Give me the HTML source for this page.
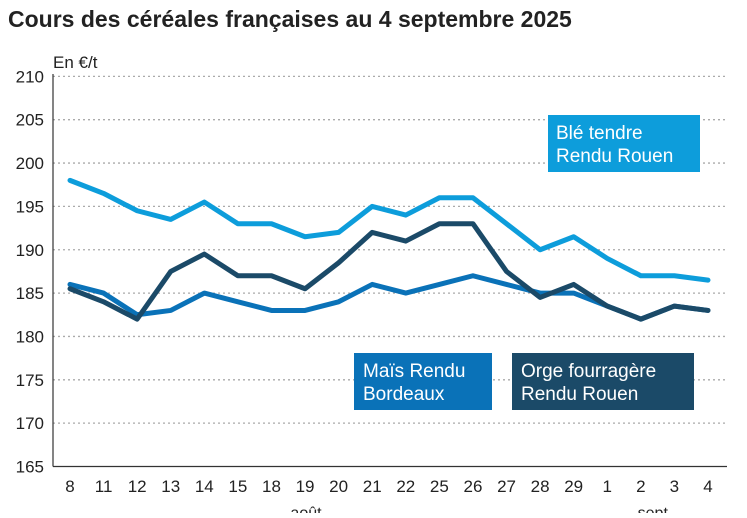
<!DOCTYPE html>
<html><head><meta charset="utf-8"><style>
body{margin:0;background:#fff;font-family:"Liberation Sans",sans-serif;}
svg text{font-family:"Liberation Sans",sans-serif;}
</style></head><body>
<svg width="747" height="513" xmlns="http://www.w3.org/2000/svg">
<text x="8" y="27" font-size="23" font-weight="bold" fill="#222">Cours des céréales françaises au 4 septembre 2025</text>
<text x="53" y="68" font-size="17" fill="#222">En €/t</text>
<g id="grid"></g><g id="lines"></g><g id="xt"></g>
<line x1="53" y1="74" x2="53" y2="466.5" stroke="#333" stroke-width="1.2"/>
<line x1="53" y1="466.5" x2="727" y2="466.5" stroke="#333" stroke-width="1.2"/>
<text x="306" y="518" font-size="16" fill="#222" text-anchor="middle">août</text>
<text x="655" y="518" font-size="16" fill="#222" text-anchor="middle">sept.</text>
<g><rect x="548" y="115" width="152" height="57" fill="#0d9ddb"/><text x="556" y="139" font-size="19" fill="#fff">Blé tendre</text><text x="556" y="162" font-size="19" fill="#fff">Rendu Rouen</text></g>
<g><rect x="354" y="353" width="138" height="57" fill="#0a72b8"/><text x="363" y="377" font-size="19" fill="#fff">Maïs Rendu</text><text x="363" y="400" font-size="19" fill="#fff">Bordeaux</text></g>
<g><rect x="512" y="353" width="182" height="57" fill="#1b4a68"/><text x="521" y="377" font-size="19" fill="#fff">Orge fourragère</text><text x="521" y="400" font-size="19" fill="#fff">Rendu Rouen</text></g>
</svg>
<script>
const categories=["8","11","12","13","14","15","18","19","20","21","22","25","26","27","28","29","1","2","3","4"];
const yTicks=[165,170,175,180,185,190,195,200,205,210];
const ble=[198,196.5,194.5,193.5,195.5,193,193,191.5,192,195,194,196,196,193,190,191.5,189,187,187,186.5];
const mais=[186,185,182.5,183,185,184,183,183,184,186,185,186,187,186,185,185,183.5,182,183.5,183];
const orge=[185.5,184,182,187.5,189.5,187,187,185.5,188.5,192,191,193,193,187.5,184.5,186,183.5,182,183.5,183];
const NS="http://www.w3.org/2000/svg";
function y(v){return 466.5-(v-165)*8.67;}
function x(i){return 70+i*(708-70)/(categories.length-1);}
const grid=document.getElementById('grid');
yTicks.forEach(t=>{
 if(t>165){const l=document.createElementNS(NS,'line');
 l.setAttribute('x1',53);l.setAttribute('x2',727);l.setAttribute('y1',y(t));l.setAttribute('y2',y(t));
 l.setAttribute('stroke','#aaa');l.setAttribute('stroke-dasharray','2 3');l.setAttribute('stroke-width','1.3');
 
 
 grid.appendChild(l);}
 const tx=document.createElementNS(NS,'text');
 tx.setAttribute('x',44);tx.setAttribute('y',y(t)+6);tx.setAttribute('text-anchor','end');tx.setAttribute('font-size','17');tx.setAttribute('fill','#222');
 tx.textContent=t;
 
 
 grid.appendChild(tx);
});
const xt=document.getElementById('xt');
categories.forEach((c,i)=>{
 const tx=document.createElementNS(NS,'text');
 tx.setAttribute('x',x(i));tx.setAttribute('y',492);tx.setAttribute('text-anchor','middle');tx.setAttribute('font-size','17');tx.setAttribute('fill','#222');
 tx.textContent=c;
 
 
 xt.appendChild(tx);
});
const lines=document.getElementById('lines');
[[ble,'#0d9ddb','line-ble'],[mais,'#0a72b8','line-mais'],[orge,'#1b4a68','line-orge']].forEach(([d,c,n])=>{
 const p=document.createElementNS(NS,'polyline');
 p.setAttribute('points',d.map((v,i)=>x(i)+','+y(v)).join(' '));
 p.setAttribute('fill','none');p.setAttribute('stroke',c);p.setAttribute('stroke-width','5');
 p.setAttribute('stroke-linejoin','round');p.setAttribute('stroke-linecap','round');
 
 
 lines.appendChild(p);
});
</script>
</body></html>
